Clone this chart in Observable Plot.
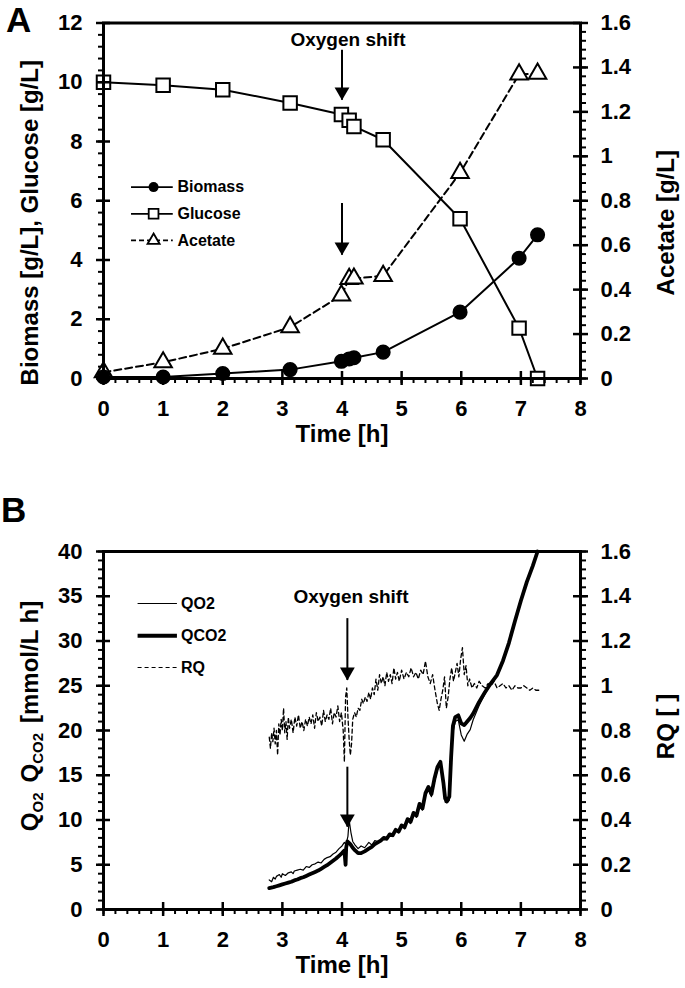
<!DOCTYPE html>
<html>
<head>
<meta charset="utf-8">
<script src="https://cdn.jsdelivr.net/npm/d3@7"></script>
<script src="https://cdn.jsdelivr.net/npm/@observablehq/plot@0.6"></script>
<style>
  html, body { margin:0; padding:0; background:#fff; }
  #chart { width:685px; }
  #chart svg { display:block; }
</style>
</head>
<body>
<div id="chart"></div>
<script>
// ================= DATA =================
// Panel A – offline samples
const timeA    = [0, 1, 2, 3.13, 3.99, 4.12, 4.2, 4.69, 5.98, 6.97, 7.28];
const biomass  = [0.05, 0.05, 0.17, 0.3, 0.58, 0.66, 0.7, 0.89, 2.24, 4.06, 4.85];
const glucose  = [10.0, 9.9, 9.75, 9.3, 8.91, 8.72, 8.51, 8.06, 5.39, 1.7, 0.0];
const acetate  = [0.028, 0.073, 0.134, 0.231, 0.374, 0.448, 0.45, 0.462, 0.925, 1.369, 1.372];

// Panel B – online off-gas data [time h, value]
const qco2Data = [[2.78,2.4],[2.85,2.5],[2.9,2.6],[2.95,2.7],[3.0,2.8],[3.05,2.9],[3.1,3.0],[3.15,3.1],[3.2,3.25],[3.25,3.35],[3.3,3.5],[3.35,3.6],[3.4,3.75],[3.45,3.9],[3.5,4.05],[3.55,4.2],[3.6,4.35],[3.65,4.55],[3.7,4.75],[3.75,4.95],[3.8,5.2],[3.85,5.45],[3.9,5.7],[3.95,6.0],[4.0,6.3],[4.04,6.6],[4.06,5.0],[4.07,6.9],[4.09,7.6],[4.14,7.3],[4.18,6.9],[4.22,6.6],[4.27,6.3],[4.32,6.3],[4.38,6.5],[4.45,6.8],[4.5,7.0],[4.55,7.3],[4.6,7.5],[4.65,7.7],[4.7,8.0],[4.75,7.9],[4.8,8.4],[4.85,8.3],[4.9,8.9],[4.95,8.7],[5.0,9.4],[5.05,9.2],[5.1,10.1],[5.15,9.8],[5.2,10.8],[5.25,10.5],[5.3,11.8],[5.35,11.3],[5.4,13.0],[5.45,13.7],[5.5,12.9],[5.55,14.6],[5.6,15.9],[5.65,16.5],[5.7,14.2],[5.73,12.4],[5.76,12.1],[5.8,12.6],[5.83,17.0],[5.86,20.5],[5.9,21.5],[5.95,21.7],[6.0,20.8],[6.05,20.6],[6.1,21.0],[6.15,21.4],[6.2,21.9],[6.3,23.2],[6.4,24.3],[6.5,25.3],[6.6,26.2],[6.7,27.8],[6.8,29.8],[6.9,32.2],[7.0,34.5],[7.1,36.6],[7.2,38.4],[7.28,40.0]];

const qo2Data = [[2.78,3.3],[2.82,3.1],[2.85,3.6],[2.88,3.4],[2.9,3.7],[2.95,3.9],[2.98,3.6],[3.0,4.0],[3.05,3.8],[3.1,4.1],[3.15,4.2],[3.18,4.0],[3.2,4.3],[3.25,4.4],[3.3,4.5],[3.35,4.4],[3.4,4.8],[3.45,4.7],[3.5,5.0],[3.55,5.1],[3.6,5.3],[3.65,5.2],[3.7,5.6],[3.75,5.8],[3.8,5.9],[3.85,6.2],[3.9,6.4],[3.95,6.8],[4.0,7.1],[4.04,7.5],[4.07,7.3],[4.1,8.2],[4.12,10.0],[4.15,8.6],[4.18,7.6],[4.22,7.2],[4.27,6.8],[4.32,7.1],[4.38,6.9],[4.45,7.5],[4.5,7.2],[4.55,7.7],[4.6,7.6],[4.65,7.8],[4.7,8.1],[4.75,7.8],[4.8,8.5],[4.85,8.2],[4.9,9.0],[4.95,8.6],[5.0,9.5],[5.05,9.0],[5.1,10.0],[5.15,9.6],[5.2,10.6],[5.25,10.3],[5.3,11.6],[5.35,11.1],[5.4,12.7],[5.45,13.4],[5.5,12.6],[5.55,14.2],[5.6,15.6],[5.65,16.3],[5.7,13.8],[5.73,12.0],[5.76,11.9],[5.8,12.2],[5.83,16.0],[5.86,19.8],[5.9,21.0],[5.95,21.2],[6.0,19.5],[6.05,18.8],[6.1,19.6],[6.15,20.1],[6.2,21.2],[6.3,22.8],[6.4,24.1],[6.5,25.2],[6.6,26.1],[6.7,27.7],[6.8,29.7],[6.9,32.1],[7.0,34.5],[7.1,36.6],[7.2,38.4],[7.28,40.0]];

const rqData = [[2.78,0.77],[2.8,0.72],[2.82,0.79],[2.84,0.75],[2.86,0.81],[2.88,0.74],[2.9,0.8],[2.92,0.69],[2.94,0.83],[2.96,0.78],[2.98,0.85],[3.0,0.8],[3.02,0.9],[3.04,0.79],[3.06,0.84],[3.08,0.76],[3.1,0.86],[3.12,0.81],[3.15,0.85],[3.18,0.79],[3.21,0.86],[3.24,0.82],[3.27,0.87],[3.3,0.81],[3.33,0.84],[3.36,0.8],[3.39,0.85],[3.42,0.82],[3.45,0.86],[3.48,0.83],[3.51,0.87],[3.54,0.81],[3.57,0.88],[3.6,0.84],[3.63,0.86],[3.66,0.82],[3.69,0.89],[3.72,0.84],[3.75,0.87],[3.78,0.85],[3.81,0.9],[3.84,0.83],[3.87,0.88],[3.9,0.86],[3.93,0.91],[3.96,0.84],[3.99,0.88],[4.02,0.8],[4.04,0.66],[4.06,0.95],[4.08,0.99],[4.1,0.86],[4.12,0.76],[4.14,0.69],[4.16,0.74],[4.18,0.85],[4.21,0.88],[4.24,0.86],[4.27,0.9],[4.3,0.89],[4.33,0.94],[4.36,0.92],[4.39,0.95],[4.42,0.93],[4.45,0.97],[4.48,0.94],[4.51,0.99],[4.54,0.96],[4.57,1.03],[4.6,0.98],[4.63,1.05],[4.66,1.01],[4.69,1.04],[4.72,1.0],[4.75,1.06],[4.78,1.02],[4.81,1.05],[4.84,1.01],[4.87,1.08],[4.9,1.03],[4.93,1.06],[4.96,1.02],[5.0,1.07],[5.04,1.03],[5.08,1.06],[5.12,1.04],[5.16,1.08],[5.2,1.04],[5.24,1.06],[5.28,1.03],[5.32,1.07],[5.36,1.05],[5.4,1.11],[5.44,1.04],[5.48,1.01],[5.52,1.05],[5.56,0.98],[5.6,0.92],[5.63,0.89],[5.66,0.94],[5.69,0.98],[5.72,1.04],[5.75,0.9],[5.78,0.95],[5.81,1.03],[5.84,1.08],[5.87,1.02],[5.9,1.06],[5.93,1.1],[5.96,1.04],[5.99,1.12],[6.02,1.17],[6.05,1.05],[6.08,1.09],[6.11,1.0],[6.14,1.03],[6.18,0.99],[6.22,1.01],[6.26,0.99],[6.3,1.02],[6.35,1.0],[6.4,0.99],[6.45,1.01],[6.5,1.0],[6.55,1.02],[6.6,0.99],[6.65,1.0],[6.7,1.01],[6.75,0.99],[6.8,1.0],[6.85,0.98],[6.9,1.0],[6.95,0.99],[7.0,0.99],[7.05,1.0],[7.1,0.99],[7.15,0.98],[7.2,0.99],[7.25,0.98],[7.3,0.98]];

// Tick values
const xMajor   = [0,1,2,3,4,5,6,7,8];
const xMinor   = d3.range(0, 8.001, 0.2);
const yMajorA  = [0,2,4,6,8,10,12];
const yMinorA  = d3.range(0, 12.001, 0.4);
const rMajor   = [0,0.2,0.4,0.6,0.8,1.0,1.2,1.4,1.6];
const rMinor   = d3.range(0, 1.601, 0.04);
const yMajorB  = [0,5,10,15,20,25,30,35,40];
const yMinorB  = d3.range(0, 40.001, 1);

// Annotations & legends
const shiftA   = [{x:4.1, y:11.42, label:"Oxygen shift"}];
const arrowsA  = [{x:4.0, y1:11.08, y2:9.39}, {x:4.0, y1:5.91, y2:4.16}];
const shiftB   = [{x:4.15, y:34.97, label:"Oxygen shift"}];
const arrowsB  = [{x:4.09, y1:32.5, y2:25.6}, {x:4.09, y1:15.9, y2:9.2}];
const legendA  = [{name:"Biomass", y:6.46}, {name:"Glucose", y:5.56}, {name:"Acetate", y:4.66}];
const legendB  = [{name:"QO2", y:34.19}, {name:"QCO2", y:30.6}, {name:"RQ", y:27.04}];

// ================= LAYOUT =================
const FONT = '"Liberation Sans", Arial, Helvetica, sans-serif';
const W = 685, ML = 103, MR = 105;
const innerW = W - ML - MR;
const accScale = 12 / 1.6;   // acetate -> left axis units
const rqScale  = 40 / 1.6;   // RQ -> left axis units
const fmt = v => String(+v.toFixed(2));
const TICKFONT = 22;

function axes(innerH, yMajor, yMinor, rScale) {
  const rMaj = rMajor.map(v => v * rScale), rMin = rMinor.map(v => v * rScale);
  return [
    Plot.axisX(xMinor, {anchor:"bottom", tickSize:5, strokeWidth:2, tickFormat:()=>"", label:null}),
    Plot.axisX(xMajor, {anchor:"bottom", tickSize:7, strokeWidth:2.5, tickPadding:15, label:null, fontSize:TICKFONT, fontWeight:"bold"}),
    Plot.ruleX(xMajor, {x:d=>d, insetTop: innerH - 7, strokeWidth:2.5}),
    Plot.axisY(yMinor, {anchor:"left", tickSize:5, strokeWidth:2, tickFormat:()=>"", label:null}),
    Plot.axisY(yMajor, {anchor:"left", tickSize:7, strokeWidth:2.5, tickPadding:14, label:null, fontSize:TICKFONT, fontWeight:"bold"}),
    Plot.ruleY(yMajor, {y:d=>d, insetRight: innerW - 7, strokeWidth:2.5}),
    Plot.axisY(rMin, {anchor:"right", tickSize:5, strokeWidth:2, tickFormat:()=>"", label:null}),
    Plot.axisY(rMaj, {anchor:"right", tickSize:7, strokeWidth:2.5, tickPadding:13, label:null, fontSize:TICKFONT, fontWeight:"bold", tickFormat: d => fmt(d / rScale)}),
    Plot.ruleY(rMaj, {y:d=>d, insetLeft: innerW - 7, strokeWidth:2.5}),
    Plot.frame({strokeWidth:3})
  ];
}

function arrowMarks(arrows, shift) {
  return [
    Plot.ruleX(arrows, {x:"x", y1:"y1", y2:"y2", strokeWidth:2}),
    Plot.dot(arrows, {x:"x", y:"y2", symbol:"triangle", rotate:180, r:5.5, fill:"black", stroke:"none", dy:-8.5}),
    Plot.text(shift, {x:"x", y:"y", text:"label", fontSize:19, fontWeight:"bold"})
  ];
}

// ---------- Panel A ----------
const HA = 460, MTA = 22.5, MBA = 82;
const innerHA = HA - MTA - MBA;
const rowsA = timeA.map((t, i) => ({t, biomass: biomass[i], glucose: glucose[i], acetate: acetate[i] * accScale}));

const legA = [
  Plot.ruleY([legendA[0]], {y:"y", x1:0.47, x2:1.17, strokeWidth:1.8}),
  Plot.ruleY([legendA[1]], {y:"y", x1:0.47, x2:1.17, strokeWidth:1.8}),
  Plot.ruleY([legendA[2]], {y:"y", x1:0.47, x2:1.17, strokeWidth:1.8, strokeDasharray:"5,3"}),
  Plot.dot([legendA[0]], {x:()=>0.84, y:"y", r:5, fill:"black"}),
  Plot.dot([legendA[1]], {x:()=>0.84, y:"y", symbol:"square", r:5.5, fill:"white", stroke:"black", strokeWidth:1.8}),
  Plot.dot([legendA[2]], {x:()=>0.84, y:"y", symbol:"triangle", r:4.5, fill:"white", stroke:"black", strokeWidth:1.8}),
  Plot.text(legendA, {x:()=>1.24, y:"y", text:"name", textAnchor:"start", fontSize:16, fontWeight:"bold"})
];

const plotA = Plot.plot({
  width: W, height: HA,
  marginLeft: ML, marginRight: MR, marginTop: MTA, marginBottom: MBA,
  style: {fontFamily: FONT, fontWeight: "bold", color: "#000", background: "#fff"},
  x: {domain: [0, 8]},
  y: {domain: [0, 12]},
  marks: [
    Plot.line(rowsA, {x:"t", y:"glucose", stroke:"black", strokeWidth:2}),
    Plot.line(rowsA, {x:"t", y:"biomass", stroke:"black", strokeWidth:2}),
    Plot.line(rowsA, {x:"t", y:"acetate", stroke:"black", strokeWidth:2, strokeDasharray:"7,4"}),
    Plot.dot(rowsA, {x:"t", y:"acetate", symbol:"triangle", r:6.5, fill:"white", stroke:"black", strokeWidth:2}),
    Plot.dot(rowsA, {x:"t", y:"glucose", symbol:"square", r:7.6, fill:"white", stroke:"black", strokeWidth:2}),
    Plot.dot(rowsA, {x:"t", y:"biomass", r:6.8, fill:"black", stroke:"black"}),
    ...arrowMarks(arrowsA, shiftA),
    ...legA,
    ...axes(innerHA, yMajorA, yMinorA, accScale),
    Plot.text(["Time [h]"], {frameAnchor:"bottom", dy:63, fontSize:24, fontWeight:"bold"}),
    Plot.text(["Biomass [g/L], Glucose [g/L]"], {frameAnchor:"left", textAnchor:"middle", rotate:-90, dx:-73, dy:22, fontSize:24, fontWeight:"bold"}),
    Plot.text(["Acetate [g/L]"], {frameAnchor:"right", textAnchor:"middle", rotate:-90, dx:86, dy:22, fontSize:24, fontWeight:"bold"})
  ]
});

// ---------- Panel B ----------
const HB = 528, MTB = 91, MBB = 79;
const innerHB = HB - MTB - MBB;

const legB = [
  Plot.ruleY([legendB[0]], {y:"y", x1:0.58, x2:1.24, strokeWidth:1.2}),
  Plot.ruleY([legendB[1]], {y:"y", x1:0.58, x2:1.24, strokeWidth:4}),
  Plot.ruleY([legendB[2]], {y:"y", x1:0.58, x2:1.24, strokeWidth:1.2, strokeDasharray:"4,3"}),
  Plot.text(legendB, {x:()=>1.3, y:"y", text:"name", textAnchor:"start", fontSize:16, fontWeight:"bold"})
];

const plotB = Plot.plot({
  width: W, height: HB,
  marginLeft: ML, marginRight: MR, marginTop: MTB, marginBottom: MBB,
  style: {fontFamily: FONT, fontWeight: "bold", color: "#000", background: "#fff"},
  x: {domain: [0, 8]},
  y: {domain: [0, 40]},
  marks: [
    Plot.line(rqData, {x:d=>d[0], y:d=>d[1] * rqScale, stroke:"black", strokeWidth:1.3, strokeDasharray:"4,3"}),
    Plot.line(qco2Data, {x:d=>d[0], y:d=>d[1], stroke:"black", strokeWidth:3.8}),
    Plot.line(qo2Data, {x:d=>d[0], y:d=>d[1], stroke:"black", strokeWidth:1.2}),
    ...arrowMarks(arrowsB, shiftB),
    ...legB,
    ...axes(innerHB, yMajorB, yMinorB, rqScale),
    Plot.text(["Time [h]"], {frameAnchor:"bottom", dy:63, fontSize:24, fontWeight:"bold"}),
    Plot.text(["RQ [ ]"], {frameAnchor:"right", textAnchor:"middle", rotate:-90, dx:86, dy:-4, fontSize:24, fontWeight:"bold"})
  ]
});

const chart = document.getElementById("chart");
chart.appendChild(plotA);
chart.appendChild(plotB);

// Panel tags
d3.select(plotA).append("text").attr("x", 6).attr("y", 32).attr("text-anchor", "start")
  .attr("font-size", 35).attr("font-weight", "bold").attr("font-family", FONT).text("A");
d3.select(plotB).append("text").attr("x", 1).attr("y", 62).attr("text-anchor", "start")
  .attr("font-size", 35).attr("font-weight", "bold").attr("font-family", FONT).text("B");

// Left title of panel B with subscripts
const tB = d3.select(plotB).append("text")
  .attr("transform", `translate(30,${716 - 460}) rotate(-90)`)
  .attr("text-anchor", "middle").attr("dy", "0.35em")
  .attr("font-size", 24).attr("font-weight", "bold").attr("font-family", FONT);
tB.append("tspan").text("Q");
tB.append("tspan").attr("font-size", 15).attr("dy", 5).text("O2");
tB.append("tspan").attr("dy", -5).attr("dx", 10).text("Q");
tB.append("tspan").attr("font-size", 15).attr("dy", 5).text("CO2");
tB.append("tspan").attr("dy", -5).attr("dx", 10).text("[mmol/L h]");
</script>
</body>
</html>
